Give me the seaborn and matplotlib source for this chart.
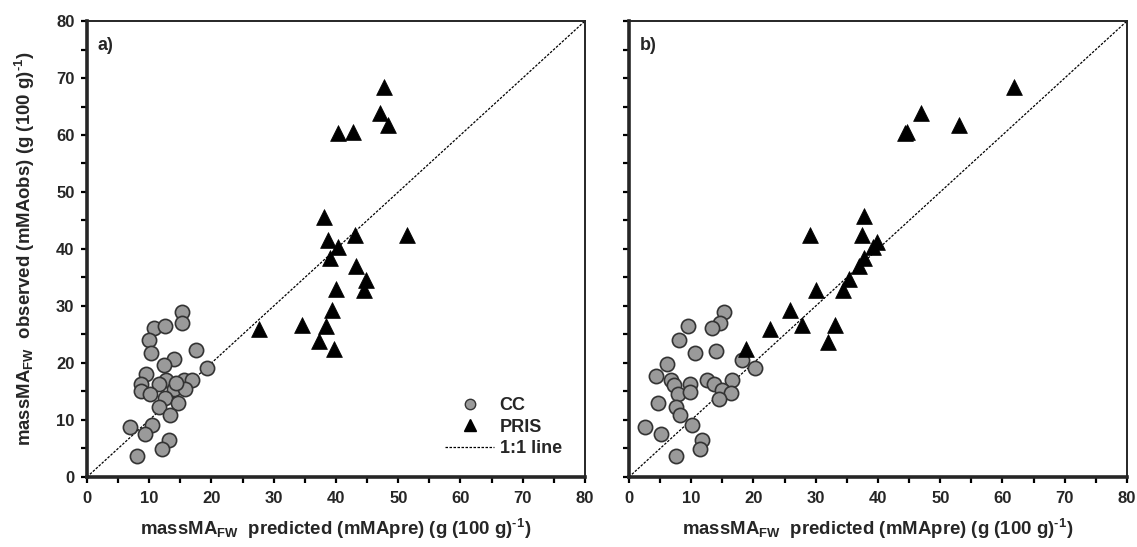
import pandas as pd
import numpy as np
import seaborn as sns
import matplotlib.pyplot as plt
from matplotlib.lines import Line2D

# panel a) CC group: predicted / observed
cc_pred_a = [15.2, 15.3, 10.8, 12.6, 10.0, 10.3, 17.5, 14.0, 12.4, 19.3,
             9.5, 8.7, 12.7, 11.6, 15.6, 16.8, 13.9, 15.8, 8.7, 10.1,
             12.5, 14.6, 11.5, 13.3, 6.9, 10.4, 9.4, 13.1, 12.0, 8.0, 14.3]
cc_obs_a = [29.0, 27.1, 26.1, 26.5, 24.0, 21.7, 22.2, 20.7, 19.6, 19.1,
            18.0, 16.4, 17.1, 16.3, 17.0, 17.1, 15.4, 15.4, 15.0, 14.5,
            13.8, 12.9, 12.2, 10.9, 8.8, 9.1, 7.5, 6.5, 4.9, 3.7, 16.5]

# panel a) PRIS group
pris_pred_a = [47.7, 47.1, 48.3, 40.4, 42.8, 38.0, 38.7, 40.4, 43.1, 51.4,
               39.0, 43.2, 44.9, 44.5, 40.0, 39.3, 34.6, 38.4, 37.2, 39.7, 27.7]
pris_obs_a = [68.4, 63.9, 61.8, 60.3, 60.6, 45.7, 41.5, 40.4, 42.5, 42.5,
              38.4, 37.1, 34.6, 32.8, 32.9, 29.3, 26.7, 26.5, 23.9, 22.4, 26.0]

# panel b) CC group
cc_pred_b = [15.2, 14.6, 9.4, 13.3, 8.1, 10.6, 14.0, 18.1, 20.3, 6.1,
             4.3, 6.8, 7.2, 9.8, 12.6, 13.7, 16.5, 7.8, 9.8, 14.9,
             16.4, 14.4, 4.6, 7.6, 8.2, 10.2, 2.6, 5.1, 11.8, 11.4, 7.6]
cc_obs_b = [28.9, 27.1, 26.5, 26.1, 24.0, 21.8, 22.1, 20.6, 19.1, 19.8,
            17.8, 17.1, 16.1, 16.4, 17.0, 16.3, 17.0, 14.5, 14.9, 15.3,
            14.8, 13.7, 12.9, 12.2, 10.9, 9.1, 8.7, 7.5, 6.5, 4.9, 3.7]

# panel b) PRIS group
pris_pred_b = [61.9, 46.9, 53.0, 44.3, 44.6, 37.8, 29.1, 37.5, 39.8, 39.2,
               37.8, 36.9, 35.3, 34.4, 30.0, 33.1, 32.0, 27.8, 18.8, 22.7, 25.9]
pris_obs_b = [68.5, 63.9, 61.8, 60.3, 60.6, 45.8, 42.5, 42.5, 41.3, 40.4,
              38.4, 37.0, 34.7, 32.8, 32.8, 26.7, 23.7, 26.7, 22.4, 25.9, 29.3]

panel_labels = ['a)', 'b)']
ticks_major = [0, 10, 20, 30, 40, 50, 60, 70, 80]

sns.set_style('ticks')
plt.rcParams['font.family'] = ['Liberation Sans', 'DejaVu Sans']
plt.rcParams['font.weight'] = 'bold'
plt.rcParams['mathtext.fontset'] = 'custom'
plt.rcParams['mathtext.rm'] = 'Liberation Sans:bold'
plt.rcParams['mathtext.default'] = 'rm'

CC_FACE = '#9a9a9a'
CC_EDGE = '#333333'


def make_df(pred, obs, group):
    return pd.DataFrame({'pred': pred, 'obs': obs, 'group': group})


fig = plt.figure(figsize=(11.37, 5.47), dpi=100)
ax_a = fig.add_axes([0.0765, 0.128, 0.438, 0.8336])
ax_b = fig.add_axes([0.5532, 0.128, 0.438, 0.8336])

panels = [
    (ax_a, make_df(cc_pred_a, cc_obs_a, 'CC'), make_df(pris_pred_a, pris_obs_a, 'PRIS')),
    (ax_b, make_df(cc_pred_b, cc_obs_b, 'CC'), make_df(pris_pred_b, pris_obs_b, 'PRIS')),
]

xlabel = 'massMA$_{FW}$  predicted (mMApre) (g (100 g)$^{\\text{-1}}$)'
ylabel = 'massMA$_{FW}$  observed (mMAobs) (g (100 g)$^{\\text{-1}}$)'

for i, (ax, cc, pris) in enumerate(panels):
    ax.plot([0, 80], [0, 80], color='black', lw=0.9, ls=(0, (2, 1.2)), zorder=1)
    sns.scatterplot(data=cc, x='pred', y='obs', ax=ax, marker='o', s=105,
                    color=CC_FACE, edgecolor=CC_EDGE, linewidth=1.2, zorder=3)
    sns.scatterplot(data=pris, x='pred', y='obs', ax=ax, marker='^', s=130,
                    color='black', edgecolor='black', linewidth=0.5, zorder=4)
    ax.set_xlim(0, 80)
    ax.set_ylim(0, 80)
    ax.set_xticks(ticks_major)
    ax.set_xticks(np.arange(5, 80, 10), minor=True)
    ax.set_yticks(ticks_major)
    ax.set_yticks(np.arange(5, 80, 10), minor=True)
    ax.tick_params(which='both', direction='out', length=4, width=1.6,
                   labelsize=12, color='black')
    ax.tick_params(axis='x', pad=6)
    ax.tick_params(axis='y', pad=5)
    for side in ['left', 'bottom']:
        ax.spines[side].set_linewidth(2.6)
    for side in ['top', 'right']:
        ax.spines[side].set_linewidth(1.4)
        ax.spines[side].set_visible(True)
    for lab in ax.get_xticklabels() + ax.get_yticklabels():
        lab.set_fontweight('bold')
    ax.set_xlabel(xlabel, fontsize=13.4, fontweight='bold', labelpad=8)
    ax.text(0.022, 0.965, panel_labels[i], transform=ax.transAxes,
            fontsize=13, fontweight='bold', va='top', ha='left')
    if i == 0:
        ax.set_ylabel(ylabel, fontsize=13.4, fontweight='bold', labelpad=14)
    else:
        ax.set_ylabel('')
        ax.set_yticklabels([])

handles = [
    Line2D([], [], marker='o', ls='none', markersize=7.5, markerfacecolor=CC_FACE,
           markeredgecolor=CC_EDGE, markeredgewidth=1.0),
    Line2D([], [], marker='^', ls='none', markersize=8.5, color='black'),
    Line2D([], [], color='black', lw=0.9, ls=(0, (2, 1.2))),
]
leg = ax_a.legend(handles, ['CC', 'PRIS', '1:1 line'], loc='lower right',
                  bbox_to_anchor=(0.986, 0.008), frameon=False, fontsize=13,
                  handlelength=2.7, handletextpad=0.3, labelspacing=0.25)
for t in leg.get_texts():
    t.set_fontweight('bold')

fig.savefig('out.png', dpi=100)
